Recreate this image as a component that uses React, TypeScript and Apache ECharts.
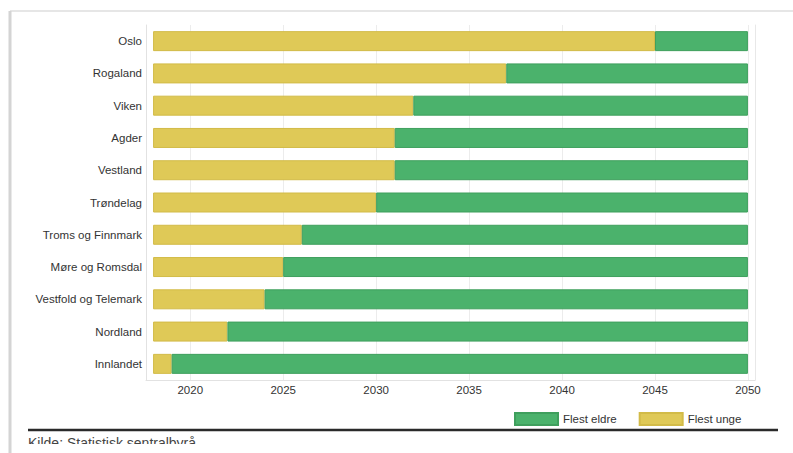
import React, { useEffect, useRef } from "react";
import * as echarts from "echarts";

const regions = [
  "Oslo",
  "Rogaland",
  "Viken",
  "Agder",
  "Vestland",
  "Trøndelag",
  "Troms og Finnmark",
  "Møre og Romsdal",
  "Vestfold og Telemark",
  "Nordland",
  "Innlandet",
];
// Year in which the elderly outnumber the young
const crossoverYear = [2045, 2037, 2032, 2031, 2031, 2030, 2026, 2025, 2024, 2022, 2019];
const startYear = 2018;
const endYear = 2050;
const tickYears = [2020, 2025, 2030, 2035, 2040, 2045, 2050];
const seriesNames = ["Flest eldre", "Flest unge"];
const sourceText = "Kilde: Statistisk sentralbyrå";

const youngValues = crossoverYear.map((y) => y - startYear);
const elderValues = crossoverYear.map((y) => endYear - y);
const baseValues = crossoverYear.map(() => startYear);

const FONT = "Liberation Sans, Arial, Helvetica, sans-serif";

export default function App() {
  const ref = useRef<HTMLDivElement>(null);
  useEffect(() => {
    if (!ref.current) return;
    const chart = echarts.init(ref.current, undefined, { renderer: "svg" });
    chart.setOption({
      animation: false,
      backgroundColor: "#ffffff",
      textStyle: { fontFamily: FONT },
      grid: { left: 146, right: 38, top: 25, bottom: 73, containLabel: false },
      legend: {
        data: seriesNames,
        left: 509,
        top: 407,
        icon: "rect",
        itemWidth: 43,
        itemHeight: 12,
        itemGap: 22,
        textStyle: { fontSize: 11.5, color: "#333", fontFamily: FONT },
        selectedMode: false,
      },
      xAxis: {
        type: "value",
        min: 2017.62,
        max: 2050.38,
        axisLine: { show: true, lineStyle: { color: "#e2e2e2", width: 1 } },
        axisTick: { show: false, customValues: tickYears },
        axisLabel: {
          customValues: tickYears,
          color: "#333",
          fontSize: 11.5,
          margin: 4,
          fontFamily: FONT,
          formatter: (v: number) => String(v),
        },
        splitLine: { show: true, lineStyle: { color: "#ececec", width: 1 } },
      },
      yAxis: [
        {
          type: "category",
          data: regions,
          inverse: true,
          axisLine: { show: true, lineStyle: { color: "#e2e2e2", width: 1 } },
          axisTick: { show: false },
          axisLabel: { color: "#333", fontSize: 11.5, margin: 4, fontFamily: FONT },
          splitLine: { show: false },
        },
        {
          type: "category",
          data: regions,
          inverse: true,
          position: "right",
          axisLine: { show: true, lineStyle: { color: "#e8e8e8", width: 1 } },
          axisTick: { show: false },
          axisLabel: { show: false },
          splitLine: { show: false },
        },
      ],
      series: [
        {
          name: "base",
          type: "bar",
          stack: "a",
          barWidth: 20,
          silent: true,
          data: baseValues,
          itemStyle: { color: "rgba(0,0,0,0)" },
        },
        {
          name: "Flest unge",
          type: "bar",
          stack: "a",
          barWidth: 20,
          data: youngValues,
          itemStyle: { color: "#dfc957", borderColor: "#d2bb48", borderWidth: 1 },
        },
        {
          name: "Flest eldre",
          type: "bar",
          stack: "a",
          barWidth: 20,
          data: elderValues,
          itemStyle: { color: "#4bb26c", borderColor: "#3f9f5d", borderWidth: 1 },
        },
      ],
      graphic: [
        { type: "line", shape: { x1: 10, y1: 11, x2: 793, y2: 11 }, style: { stroke: "#e6e6e6", lineWidth: 2 }, z: 10 },
        { type: "line", shape: { x1: 10, y1: 11, x2: 10, y2: 453 }, style: { stroke: "#d4d4d4", lineWidth: 3 }, z: 10 },
        { type: "line", shape: { x1: 28, y1: 430, x2: 778, y2: 430 }, style: { stroke: "#2a2a2a", lineWidth: 2.5 }, z: 10 },
        {
          type: "text",
          left: 28,
          top: 436,
          style: { text: sourceText, fontSize: 14, fill: "#444", fontFamily: FONT },
          z: 10,
        },
        { type: "rect", shape: { x: 13, y: 444, width: 780, height: 10 }, style: { fill: "#ffffff" }, z: 20 },
      ],
    });
    return () => chart.dispose();
  }, []);
  return (
    <div
      ref={ref}
      style={{ position: "absolute", left: 0, top: 0, width: 793, height: 453 }}
    />
  );
}
